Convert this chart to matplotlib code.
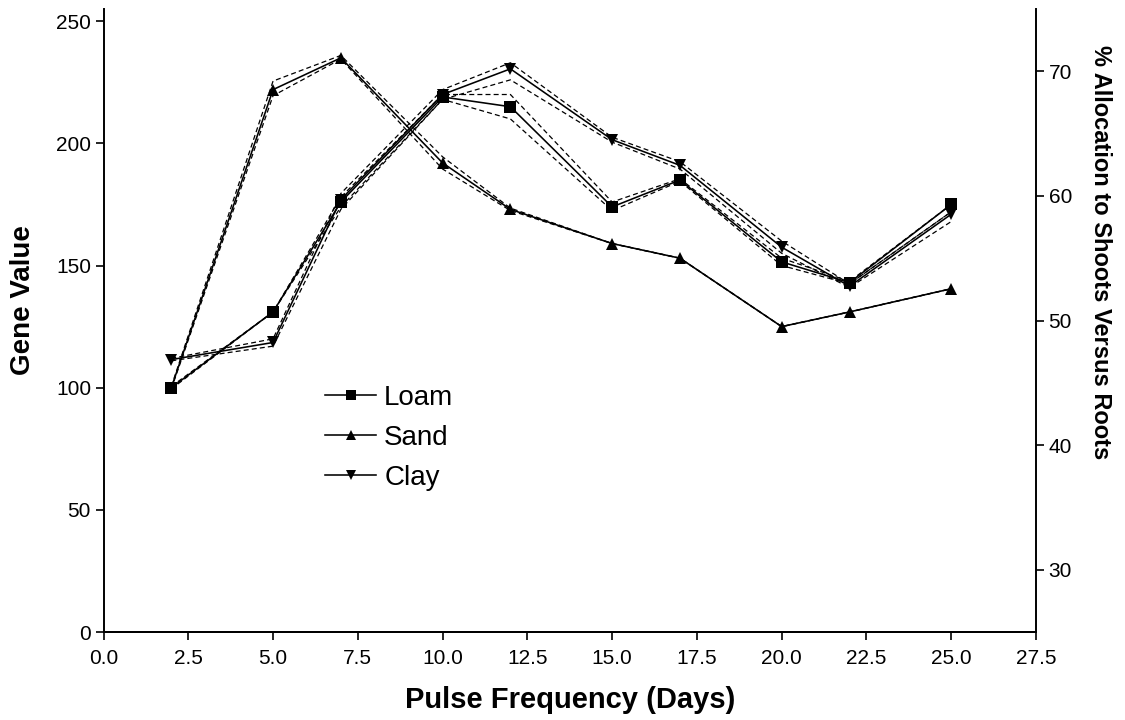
import numpy as np
import matplotlib.pyplot as plt

plt.rcParams['font.family'] = ['Liberation Sans', 'DejaVu Sans']

# pulse frequency (days)
days = [2, 5, 7, 10, 12, 15, 17, 20, 22, 25]

# gene values
loam = [100, 131, 176, 219, 215, 174, 185, 151.5, 143, 175]
sand = [100, 222, 235, 192, 173, 159, 153, 125, 131, 140.5]
clay = [111.5, 118.5, 177, 220, 230.5, 201.5, 191, 157.5, 141.5, 171]

# dashed band around each series (lower / upper)
loam_lo = [99.5, 131, 174, 218, 210, 172.5, 184.5, 150, 142.5, 172]
loam_hi = [100.5, 131, 178, 220, 220, 176, 185.5, 153, 143.5, 175]
sand_lo = [99.5, 219.5, 234.5, 189.5, 172.5, 159, 153, 125, 131, 140.5]
sand_hi = [100.5, 225.5, 236, 194.5, 173.5, 159, 153, 125, 131, 140.5]
clay_lo = [111, 117, 173, 218, 226, 200.5, 189.5, 155, 141, 168]
clay_hi = [112, 120, 179.5, 222, 233, 202.5, 192.5, 160, 142.5, 172]

series = [
    ('Loam', loam, loam_lo, loam_hi, 's'),
    ('Sand', sand, sand_lo, sand_hi, '^'),
    ('Clay', clay, clay_lo, clay_hi, 'v'),
]

W, H = 1125, 720
fig = plt.figure(figsize=(W / 100, H / 100), dpi=100)
x0, x1, y0, y1 = 103.5, 1036, 9, 632
ax = fig.add_axes([x0 / W, 1 - y1 / H, (x1 - x0) / W, (y1 - y0) / H])

# bands first, solid lines on top
for name, vals, lo, hi, mk in series:
    ax.plot(days, lo, color='black', lw=0.9, ls=(0, (4, 2.5)), zorder=2)
    ax.plot(days, hi, color='black', lw=0.9, ls=(0, (4, 2.5)), zorder=2)
for name, vals, lo, hi, mk in series:
    ax.plot(days, vals, color='black', lw=1.15, marker=mk, markersize=8,
            markeredgewidth=0, label=name, zorder=3)

ax.set_xlim(0, 27.5)
ax.set_ylim(0, 255)
ax.set_xticks(np.arange(0, 27.6, 2.5))
ax.set_xticklabels(['%.1f' % v for v in np.arange(0, 27.6, 2.5)])
ax.set_yticks([0, 50, 100, 150, 200, 250])

ax2 = ax.twinx()
ax2.set_ylim(25, 75)
ax2.set_yticks([30, 40, 50, 60, 70])

for a in (ax, ax2):
    a.spines['top'].set_visible(False)
    for s in a.spines.values():
        s.set_linewidth(1.4)
    a.tick_params(direction='out', length=6, width=1.2, labelsize=15, pad=3)
ax.tick_params(axis='x', pad=6)
ax.spines['right'].set_visible(False)
ax2.spines['left'].set_visible(False)

leg = ax.legend(loc='upper left', bbox_to_anchor=(325 / W, 1 - 385 / H),
                bbox_transform=fig.transFigure, frameon=False, fontsize=20,
                borderpad=0, borderaxespad=0, handlelength=1.85,
                handletextpad=0.28, labelspacing=0.5, markerscale=0.9)

fig.text(23 / W, 1 - 300 / H, 'Gene Value', rotation=90, ha='center',
         va='center', fontsize=20, fontweight='bold')
fig.text(570 / W, 1 - 700 / H, 'Pulse Frequency (Days)', ha='center',
         va='center', fontsize=21, fontweight='bold')
fig.text(1101 / W, 1 - 252 / H, '% Allocation to Shoots Versus Roots',
         rotation=270, ha='center', va='center', fontsize=17,
         fontweight='bold')

fig.savefig('out.png', dpi=100)
